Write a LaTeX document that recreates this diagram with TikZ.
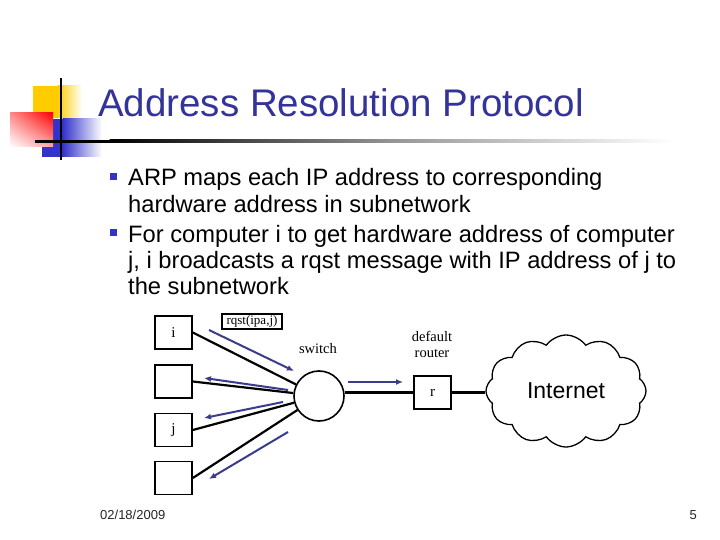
\documentclass[tikz,border=0pt]{standalone}
\usepackage{fontspec}
\setmainfont{Liberation Sans}
\newfontfamily\seriffont{Liberation Serif}
\usetikzlibrary{shapes.symbols,arrows.meta,shadings}
\definecolor{titleblue}{RGB}{51,51,153}
\definecolor{bulletblue}{RGB}{51,51,204}
\definecolor{arrowblue}{RGB}{60,60,140}
\definecolor{logoyellow}{RGB}{255,204,0}
\definecolor{logoblue}{RGB}{51,51,204}
\tikzset{
  bodytext/.style={anchor=base west, inner sep=0pt, font=\fontsize{23.7}{26}\selectfont},
  bulletsq/.style={fill=bulletblue, minimum size=7pt, inner sep=0pt},
  host/.style={draw, line width=1.6pt, minimum width=37pt, minimum height=33pt, inner sep=0pt, font=\seriffont\fontsize{15}{17}\selectfont},
  lbl/.style={inner sep=0pt, font=\seriffont\fontsize{14.5}{16}\selectfont},
  wire/.style={line width=2.2pt, black},
  msg/.style={line width=2pt, arrowblue, -{Latex[length=7pt,width=6pt]}},
  foot/.style={inner sep=0pt, font=\fontsize{13}{15}\selectfont, text=black!85}
}
\begin{document}
\begin{tikzpicture}[x=1pt,y=-1pt]
\useasboundingbox[fill=white] (0,0) rectangle (720,540);

% logo
\fill[logoyellow] (33,86) rectangle (58,118);
\shade[left color=logoyellow, right color=white] (57.5,86) rectangle (82,118);
\fill[logoblue] (42,119) rectangle (63,157);
\shade[left color=logoblue, right color=white] (62.5,119) rectangle (102,157);
\shade[upper left=red!45!white, upper right=red, lower left=white, lower right=red!35!white] (10,113) rectangle (53,147);
\fill[black] (35,140) rectangle (110,143);
\shade[left color=black, right color=black!40] (109.5,140) rectangle (400,143);
\shade[left color=black!40, right color=white] (399.5,140) rectangle (672,143);
\draw[line width=2.5pt] (61,78) -- (61,160);

% title
\node[anchor=base west, inner sep=0pt, text=titleblue, font=\fontsize{38.5}{44}\selectfont] (title) at (98,117) {Address Resolution Protocol};

% bullets
\node[bulletsq] (bul1) at (113.5,177) {};
\node[bulletsq] (bul2) at (113.5,232.5) {};
\node[bodytext] (l1) at (128,186) {ARP maps each IP address to corresponding};
\node[bodytext] (l2) at (128,212) {hardware address in subnetwork};
\node[bodytext] (l3) at (128,243) {For computer i to get hardware address of computer};
\node[bodytext] (l4) at (128,268.5) {j, i broadcasts a rqst message with IP address of j to};
\node[bodytext] (l5) at (128,294) {the subnetwork};

% hosts
\node[host] (hi) at (173.5,332.5) {i};
\node[host] (h2) at (173.5,381.5) {};
\node[host] (hj) at (173.5,430) {j};
\node[host] (h4) at (173.5,478) {};

% switch
\node[draw, circle, line width=1.6pt, minimum size=50pt, inner sep=0pt] (sw) at (319,396) {};
\node[lbl, anchor=base] (swl) at (318,353) {switch};

% router
\node[host] (r) at (432.5,392.5) {r};
\node[lbl, anchor=base] (dr1) at (432,341) {default};
\node[lbl, anchor=base] (dr2) at (432,357) {router};

% cloud
\node[cloud, draw, line width=1.3pt, cloud puffs=12, cloud puff arc=110, aspect=1.5, minimum width=160pt, minimum height=112pt, inner sep=0pt, font=\fontsize{23}{26}\selectfont] (net) at (566,391) {Internet};

% rqst label
\node[draw, line width=1.4pt, minimum width=60pt, minimum height=15pt, inner sep=1pt, font=\seriffont\fontsize{13}{14}\selectfont] (rq) at (252,321.5) {rqst(ipa,j)};

% wires
\draw[wire] (hi.east) -- (sw);
\draw[wire] (h2.east) -- (sw);
\draw[wire] (hj.east) -- (sw);
\draw[wire] (h4.east) -- (sw);
\draw[wire] (r.west) -- (r.west -| sw.east);
\draw[wire] (r.east) -- (r.east -| net.west);

% message arrows
\coordinate (a1s) at (209,330); \coordinate (a1e) at (294,371);
\coordinate (a2s) at (288,390); \coordinate (a2e) at (204,378);
\coordinate (a3s) at (283,402); \coordinate (a3e) at (204,418);
\coordinate (a4s) at (288,432); \coordinate (a4e) at (209,479);
\coordinate (a5s) at (348,382); \coordinate (a5e) at (403,382);
\draw[msg] (a1s) -- (a1e);
\draw[msg] (a2s) -- (a2e);
\draw[msg] (a3s) -- (a3e);
\draw[msg] (a4s) -- (a4e);
\draw[msg] (a5s) -- (a5e);

% footer
\node[foot, anchor=base west] (date) at (100,519) {02/18/2009};
\node[foot, anchor=base east] (page) at (697,519) {5};
\end{tikzpicture}
\end{document}
